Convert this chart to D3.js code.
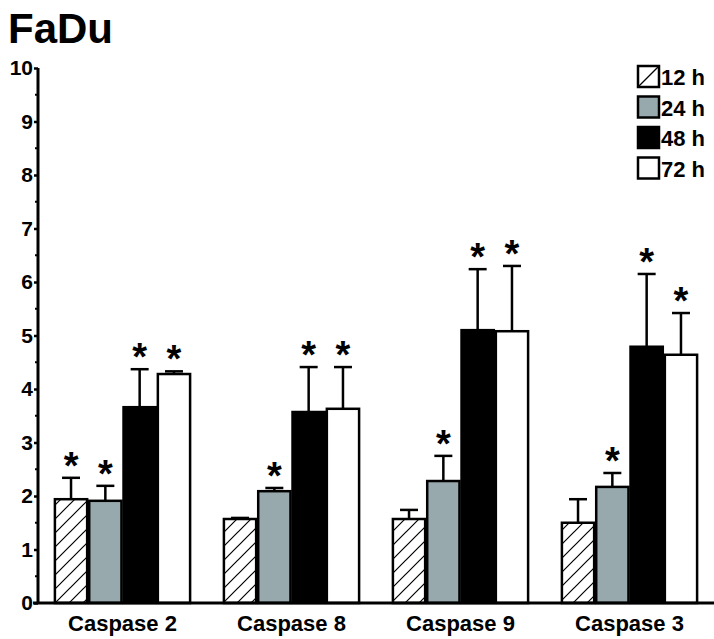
<!DOCTYPE html>
<html>
<head>
<meta charset="utf-8">
<script src="https://cdn.jsdelivr.net/npm/d3@7"></script>
<style>
  html, body { margin: 0; padding: 0; background: #fff; }
  svg { display: block; font-family: "Liberation Sans", Arial, sans-serif; }
</style>
</head>
<body>
<svg id="chart" width="714" height="639"></svg>
<script>
// Caspase activity in FaDu cells over time
const categories = ["Caspase 2", "Caspase 8", "Caspase 9", "Caspase 3"];
const series = ["12 h", "24 h", "48 h", "72 h"];
const means = {
  "12 h": [1.94, 1.57, 1.57, 1.50],
  "24 h": [1.91, 2.09, 2.28, 2.17],
  "48 h": [3.66, 3.57, 5.10, 4.79],
  "72 h": [4.28, 3.63, 5.08, 4.64]
};
const upperErr = {
  "12 h": [2.34, 1.59, 1.74, 1.94],
  "24 h": [2.19, 2.15, 2.75, 2.43],
  "48 h": [4.37, 4.41, 6.24, 6.15],
  "72 h": [4.33, 4.41, 6.30, 5.42]
};
const significant = {
  "12 h": [true, false, false, false],
  "24 h": [true, true, true, true],
  "48 h": [true, true, true, true],
  "72 h": [true, true, true, true]
};
const yTicks = [0, 1, 2, 3, 4, 5, 6, 7, 8, 9, 10];
const title = "FaDu";

const fills = { "12 h": "url(#hatch)", "24 h": "#98a9ae", "48 h": "#000", "72 h": "#fff" };

const svg = d3.select("#chart");
const plotLeft = 38, plotRight = 714, plotTop = 68, plotBottom = 603;

// hatch pattern for the 12 h bars
const defs = svg.append("defs");
const pat = defs.append("pattern")
  .attr("id", "hatch").attr("patternUnits", "userSpaceOnUse")
  .attr("width", 14).attr("height", 14);
pat.append("rect").attr("width", 14).attr("height", 14).attr("fill", "#fff");
pat.append("path").attr("d", "M-2,16 L16,-2 M-2,2 L2,-2 M12,16 L16,12")
  .attr("stroke", "#000").attr("stroke-width", 1.2);

const y = d3.scaleLinear().domain([0, 10]).range([plotBottom, plotTop]);
const x0 = d3.scaleBand().domain(categories).range([plotLeft, plotRight])
  .paddingInner(0.2).paddingOuter(0.1);
const x1 = d3.scaleBand().domain(series).range([0, x0.bandwidth()]).paddingInner(0.06);

// title
svg.append("text").attr("x", 8).attr("y", 43)
  .attr("font-size", 42).attr("font-weight", "bold").text(title);

// bars, error bars and significance marks
const rows = [];
categories.forEach((c, i) => series.forEach(s => rows.push({
  c, s, v: means[s][i], e: upperErr[s][i], sig: significant[s][i]
})));

const g = svg.append("g");
rows.forEach(d => {
  const bx = x0(d.c) + x1(d.s);
  const bw = x1.bandwidth();
  const cx = bx + bw / 2;
  // upward error bar
  g.append("line").attr("x1", cx).attr("x2", cx)
    .attr("y1", y(d.v)).attr("y2", y(d.e))
    .attr("stroke", "#000").attr("stroke-width", 2.5);
  g.append("line").attr("x1", cx - 9).attr("x2", cx + 9)
    .attr("y1", y(d.e)).attr("y2", y(d.e))
    .attr("stroke", "#000").attr("stroke-width", 2.5);
  g.append("rect")
    .attr("x", bx).attr("y", y(d.v))
    .attr("width", bw).attr("height", y(0) - y(d.v))
    .attr("fill", fills[d.s]).attr("stroke", "#000").attr("stroke-width", 2.5);
  if (d.sig) {
    g.append("text").attr("x", cx).attr("y", y(d.e) + 1)
      .attr("text-anchor", "middle")
      .attr("font-size", 38).attr("font-weight", "bold").text("*");
  }
});

// y axis with half-unit minor ticks
const yAxis = svg.append("g").attr("transform", `translate(${plotLeft},0)`)
  .call(d3.axisLeft(y).tickValues(yTicks).tickFormat(d3.format("d")).tickSize(4).tickPadding(1));
yAxis.select(".domain").attr("stroke-width", 3).attr("d", `M0,${plotTop}V${plotBottom}`);
yAxis.selectAll(".tick line").attr("stroke-width", 2.5);
yAxis.selectAll(".tick text").attr("font-size", 21).attr("font-weight", "bold")
  .attr("font-family", "Liberation Sans, Arial, sans-serif").attr("fill", "#000");
const minor = d3.range(0.5, 10, 1);
svg.append("g").selectAll("line").data(minor).join("line")
  .attr("x1", plotLeft - 3).attr("x2", plotLeft).attr("y1", d => y(d)).attr("y2", d => y(d))
  .attr("stroke", "#000").attr("stroke-width", 2);

// x axis baseline and category labels
svg.append("line").attr("x1", plotLeft - 5).attr("x2", plotRight)
  .attr("y1", plotBottom).attr("y2", plotBottom).attr("stroke", "#000").attr("stroke-width", 3);
svg.append("g").selectAll("text").data(categories).join("text")
  .attr("x", d => x0(d) + x0.bandwidth() / 2).attr("y", 631)
  .attr("text-anchor", "middle").attr("font-size", 22).attr("font-weight", "bold")
  .text(d => d);

// legend
const lg = svg.append("g").attr("transform", "translate(638,66)");
series.forEach((s, i) => {
  const row = lg.append("g").attr("transform", `translate(0,${i * 30.5})`);
  row.append("rect").attr("width", 21).attr("height", 21)
    .attr("fill", s === "12 h" ? "#fff" : fills[s])
    .attr("stroke", "#000").attr("stroke-width", 2.5);
  if (s === "12 h") {
    row.append("line").attr("x1", 0).attr("y1", 21).attr("x2", 21).attr("y2", 0)
      .attr("stroke", "#000").attr("stroke-width", 1.2);
  }
  row.append("text").attr("x", 23).attr("y", 19)
    .attr("font-size", 22).attr("font-weight", "bold").text(s);
});
</script>
</body>
</html>
